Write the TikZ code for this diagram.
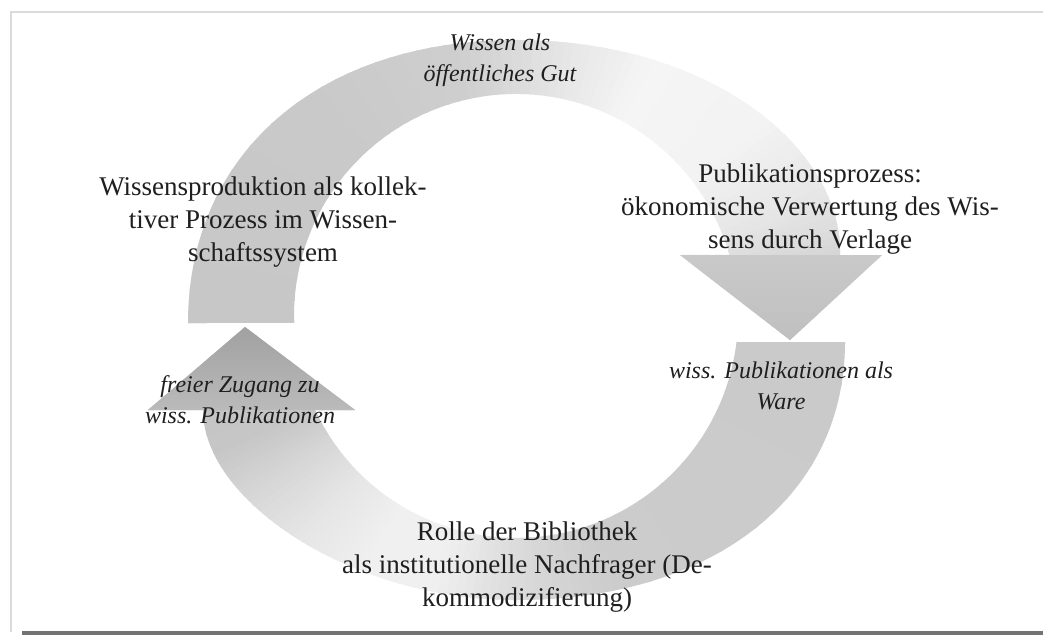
\documentclass[tikz,border=0pt]{standalone}
\usepackage{fontspec}
\setmainfont{Liberation Serif}
\usetikzlibrary{calc}
\definecolor{frameline}{gray}{0.86}
\definecolor{barcol}{gray}{0.45}
\definecolor{txt}{gray}{0.12}
\begin{document}
\begin{tikzpicture}[x=1pt,y=-1pt,
  lbl/.style={font=\fontsize{27}{33}\selectfont, align=center, text=txt, inner sep=0pt},
  ilbl/.style={font=\fontsize{24}{31}\selectfont\itshape, align=center, text=txt, inner sep=0pt}]
\useasboundingbox (0,0) rectangle (1043,635);
\fill[white] (0,0) rectangle (1043,635);
\draw[frameline, line width=1.2] (11,632) -- (11,12) -- (1043,12);
\fill[barcol] (22,631) rectangle (1043,635);

\coordinate (C) at (516,321);

% upper arrow (clockwise, pointing down on the right)
\begin{scope}
\clip (188,323) .. controls (188,153) and (319,40) .. (516,40)
      .. controls (713,40) and (843,150) .. (840,255) -- (882,255) -- (790,340) -- (680,255)
      -- (729.4,254.8) arc[start angle=-16, end angle=-181.8, radius=222] -- cycle;
\foreach \aa/\ab/\ga/\gb in {174/230/0.78/0.79, 230/258/0.79/0.81, 258/280/0.81/0.90,
   280/298/0.90/0.96, 298/322/0.96/0.95, 322/338/0.95/0.90, 338/350/0.90/0.83, 350/368/0.83/0.80} {
  \foreach \i in {0,...,9} {
    \pgfmathsetmacro\angA{\aa+(\ab-\aa)*\i/10}
    \pgfmathsetmacro\angB{\aa+(\ab-\aa)*(\i+1)/10+0.6}
    \pgfmathsetmacro\g{\ga+(\gb-\ga)*(\i+0.5)/10}
    \definecolor{wc}{gray}{\g}
    \fill[wc] (C) -- ($(C)+(\angA:700)$) -- ($(C)+(\angB:700)$) -- cycle;
  }
}
\shade[top color=black!21, bottom color=black!25] (680,255) -- (882,255) -- (790,340) -- cycle;
\end{scope}

% lower arrow (clockwise, pointing up on the left)
\begin{scope}
\clip (738,342) -- (845,342) .. controls (845,497) and (713,600) .. (516,600)
      .. controls (350,600) and (203,500) .. (203,410) -- (148,410) -- (245,327) -- (355,410)
      -- (315,410) arc[start angle=154.9, end angle=6.7, radius=222] -- cycle;
\foreach \aa/\ab/\ga/\gb in {-4/70/0.79/0.80, 70/90/0.80/0.86, 90/108/0.86/0.94, 108/122/0.94/0.94,
   122/135/0.94/0.90, 135/147/0.90/0.84, 147/156/0.84/0.78, 156/190/0.78/0.72} {
  \foreach \i in {0,...,9} {
    \pgfmathsetmacro\angA{\aa+(\ab-\aa)*\i/10}
    \pgfmathsetmacro\angB{\aa+(\ab-\aa)*(\i+1)/10+0.6}
    \pgfmathsetmacro\g{\ga+(\gb-\ga)*(\i+0.5)/10}
    \definecolor{wc}{gray}{\g}
    \fill[wc] (C) -- ($(C)+(\angA:700)$) -- ($(C)+(\angB:700)$) -- cycle;
  }
}
\shade[top color=black!37, bottom color=black!27] (148,410) -- (245,327) -- (355,410) -- cycle;
\end{scope}

% labels
\node[ilbl] (pub) at (500,60) {Wissen als\\öffentliches Gut};
\node[lbl] (prod) at (263,222) {Wissensproduktion als kollek-\\tiver Prozess im Wissen-\\schaftssystem};
\node[lbl] (verl) at (810,209) {Publikationsprozess:\\ökonomische Verwertung des Wis-\\sens durch Verlage};
\node[ilbl] (frei) at (240,400) {freier Zugang zu\\wiss. Publikationen};
\node[ilbl] (ware) at (781,386) {wiss. Publikationen als\\Ware};
\node[lbl] (bib) at (527,567) {Rolle der Bibliothek\\als institutionelle Nachfrager (De-\\kommodizifierung)};
\end{tikzpicture}
\end{document}
